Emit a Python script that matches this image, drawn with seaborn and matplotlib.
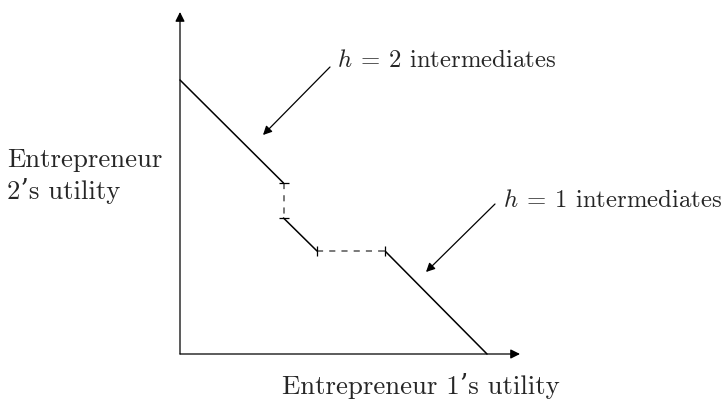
import matplotlib
matplotlib.use("Agg")
import matplotlib.pyplot as plt
import seaborn as sns
import pandas as pd

# utility frontier (entrepreneur 1 utility, entrepreneur 2 utility)
frontier_x = [0.0, 10.35, 10.35, 13.7, 20.5, 30.7]
frontier_y = [27.4, 17.1, 13.6, 10.3, 10.3, 0.0]
# segment styles: solid where intermediates exist, dashed at the jumps
segment_dash = [False, True, False, True, False]
# tick markers on the kinks
kink_marker = ["_", "_", "|", "|"]

labels = [r"$h\:=\:2$ intermediates", r"$h\:=\:1$ intermediates"]
label_xy = [(15.7, 29.3), (32.3, 15.3)]
arrow_from = [(15.0, 28.7), (31.5, 15.0)]
arrow_to = [(8.3, 21.9), (24.6, 8.2)]

x_axis_end = 34.0
y_axis_end = 34.2

sns.set_style("white")
plt.rcParams["font.family"] = ["cmr10", "DejaVu Serif"]
plt.rcParams["mathtext.fontset"] = "cm"
plt.rcParams["axes.unicode_minus"] = False

fig = plt.figure(figsize=(7.26, 3.99), dpi=100)
ax = fig.add_axes([0, 0, 1, 1])
ax.set_xlim(-18.0, 54.6)
ax.set_ylim(-4.5, 35.4)
ax.axis("off")

# axes with arrow heads
ax.annotate("", xy=(x_axis_end, 0), xytext=(0, 0),
            arrowprops=dict(arrowstyle="-|>", color="black", lw=0.9, mutation_scale=14, shrinkA=0, shrinkB=0))
ax.annotate("", xy=(0, y_axis_end), xytext=(0, 0),
            arrowprops=dict(arrowstyle="-|>", color="black", lw=0.9, mutation_scale=14, shrinkA=0, shrinkB=0))

for i, dashed in enumerate(segment_dash):
    seg = pd.DataFrame({"x": frontier_x[i:i + 2], "y": frontier_y[i:i + 2]})
    sns.lineplot(data=seg, x="x", y="y", ax=ax, color="#555555" if dashed else "black",
                 lw=1.1, linestyle=(0, (4, 4)) if dashed else "-", sort=False,
                 estimator=None, errorbar=None)

for i, m in enumerate(kink_marker):
    ax.plot(frontier_x[i + 1], frontier_y[i + 1], marker=m, color="black", ms=7, mew=0.9)

# annotations
for lab, pos, a0, a1 in zip(labels, label_xy, arrow_from, arrow_to):
    ax.text(pos[0], pos[1], lab, fontsize=17.8, va="center", ha="left")
    ax.annotate("", xy=a1, xytext=a0,
                arrowprops=dict(arrowstyle="-|>", color="black", lw=0.9, mutation_scale=13, shrinkA=0, shrinkB=0))

ax.text(-17.3, 17.8, "Entrepreneur\n2\u2019s utility", fontsize=19.3, ha="left", va="center", linespacing=1.3)
ax.text(10.2, -3.2, "Entrepreneur 1\u2019s utility", fontsize=19.3, ha="left", va="center")

fig.savefig("out.png", dpi=100)
